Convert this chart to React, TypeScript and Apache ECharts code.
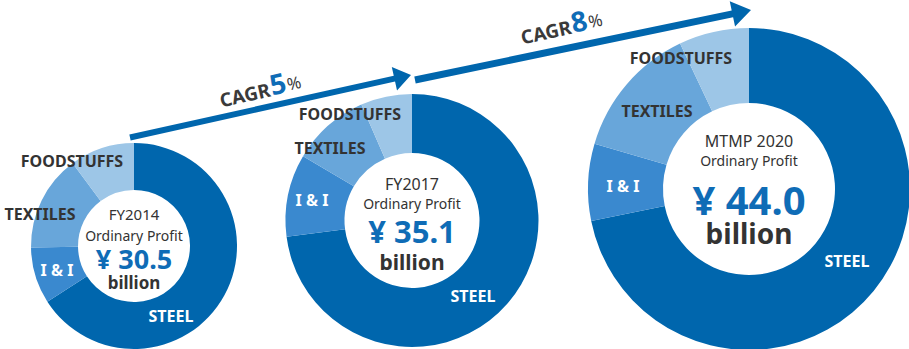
import React, { useEffect, useRef } from "react";
import * as echarts from "echarts";

// ---- data ----
const categories = ["STEEL", "I & I", "TEXTILES", "FOODSTUFFS"];
const periods = ["FY2014", "FY2017", "MTMP 2020"];
const fy2014 = [20.1, 2.7, 4.6, 3.1];
const fy2017 = [25.6, 3.7, 3.5, 2.3];
const mtmp2020 = [31.6, 3.4, 5.9, 3.1];
const cagrValues = ["5", "8"];
const subtitle = "Ordinary Profit";
const unit = "billion";

// ---- styles / layout ----
const sliceColors = ["#0066ad", "#3a89cf", "#68a6da", "#9dc6e7"];
const labelColors = ["#ffffff", "#ffffff", "#333333", "#333333"];
const blue = "#0f6cb6";
const dark = "#333333";
const FONT = '"Noto Sans", "Open Sans", sans-serif';

const layouts = [
  {
    cx: 134, cy: 246, r0: 56, r: 103,
    labelPos: [[171, 316], [57, 270], [40, 214], [72, 161]],
    labelSize: 16,
    title: { y: 214, size: 15 }, sub: { y: 235, size: 14 },
    value: { y: 258, size: 27 }, unit: { y: 282, size: 17 },
  },
  {
    cx: 412, cy: 220.5, r0: 67.5, r: 126.5,
    labelPos: [[473, 296], [312, 200], [330, 148], [350, 114]],
    labelSize: 16,
    title: { y: 184, size: 16 }, sub: { y: 203, size: 14 },
    value: { y: 231, size: 31 }, unit: { y: 262, size: 21 },
  },
  {
    cx: 749, cy: 189, r0: 86, r: 161,
    labelPos: [[847, 261], [623, 186], [657, 111], [681, 58]],
    labelSize: 16,
    title: { y: 141, size: 16 }, sub: { y: 160, size: 14 },
    value: { y: 199, size: 40 }, unit: { y: 233, size: 28 },
  },
];

const arrows = [
  { s: [130, 137.5], t: [411, 75], w: 6, hl: 17, hw: 24 },
  { s: [415, 80], t: [751, 10], w: 7, hl: 19, hw: 26 },
];
const cagrPos = [
  { x: 222, y: 110, rot: 0.225 },
  { x: 523, y: 47, rot: 0.215 },
];

function arrowPoints(a: any) {
  const [sx, sy] = a.s;
  const [tx, ty] = a.t;
  const len = Math.hypot(tx - sx, ty - sy);
  const ux = (tx - sx) / len, uy = (ty - sy) / len;
  const nx = -uy, ny = ux;
  const bx = tx - ux * a.hl, by = ty - uy * a.hl;
  return [
    [sx + nx * a.w / 2, sy + ny * a.w / 2],
    [bx + nx * a.w / 2, by + ny * a.w / 2],
    [bx + nx * a.hw / 2, by + ny * a.hw / 2],
    [tx, ty],
    [bx - nx * a.hw / 2, by - ny * a.hw / 2],
    [bx - nx * a.w / 2, by - ny * a.w / 2],
    [sx - nx * a.w / 2, sy - ny * a.w / 2],
  ];
}

export default function App() {
  const ref = useRef<HTMLDivElement>(null);
  useEffect(() => {
    document.body.style.margin = "0";
    if (!ref.current) return;
    const chart = echarts.init(ref.current, undefined, { renderer: "svg" });
    const datasets = [fy2014, fy2017, mtmp2020];

    const series = datasets.map((vals, i) => {
      const L = layouts[i];
      return {
        type: "pie",
        center: [L.cx, L.cy],
        radius: [L.r0, L.r],
        startAngle: 90,
        clockwise: true,
        silent: true,
        label: { show: false },
        labelLine: { show: false },
        itemStyle: { borderWidth: 0 },
        data: vals.map((v, k) => ({
          name: categories[k],
          value: v,
          itemStyle: { color: sliceColors[k] },
        })),
      };
    });

    const graphics: any[] = [];
    datasets.forEach((vals, i) => {
      const L = layouts[i];
      categories.forEach((c, k) => {
        graphics.push({
          type: "text",
          x: L.labelPos[k][0],
          y: L.labelPos[k][1],
          silent: true,
          z: 10,
          style: {
            text: c,
            fill: labelColors[k],
            font: `bold ${L.labelSize}px ${FONT}`,
            lineHeight: L.labelSize,
            align: "center",
            verticalAlign: "middle",
          },
        });
      });
      const total = vals.reduce((a, b) => a + b, 0).toFixed(1);
      const centerTexts = [
        { t: periods[i], s: L.title, w: "normal", c: dark },
        { t: subtitle, s: L.sub, w: "normal", c: dark },
        { t: `¥ ${total}`, s: L.value, w: "bold", c: blue },
        { t: unit, s: L.unit, w: "bold", c: dark },
      ];
      centerTexts.forEach((ct) => {
        graphics.push({
          type: "text",
          x: L.cx,
          y: ct.s.y,
          silent: true,
          z: 10,
          style: {
            text: ct.t,
            fill: ct.c,
            font: `${ct.w} ${ct.s.size}px ${FONT}`,
            lineHeight: Math.round(ct.s.size * 0.8),
            align: "center",
            verticalAlign: "middle",
          },
        });
      });
    });

    arrows.forEach((a) => {
      graphics.push({
        type: "polygon",
        silent: true,
        shape: { points: arrowPoints(a) },
        style: { fill: "#0066ad" },
      });
    });

    cagrValues.forEach((v, i) => {
      const p = cagrPos[i];
      graphics.push({
        type: "text",
        x: p.x,
        y: p.y,
        rotation: p.rot,
        silent: true,
        style: {
          text: `{a|CAGR}{b|${v}}{c|%}`,
          align: "left",
          verticalAlign: "bottom",
          rich: {
            a: { fontSize: 19, fontWeight: "bold", fill: "#3a3a3a", fontFamily: FONT, verticalAlign: "bottom", padding: [0, 1, 0, 0] },
            b: { fontSize: 28, fontWeight: "bold", fill: blue, fontFamily: FONT, verticalAlign: "bottom" },
            c: { fontSize: 17, fontWeight: "normal", fill: "#3a3a3a", fontFamily: FONT, verticalAlign: "bottom", padding: [0, 0, 2, 1] },
          },
        },
      });
    });

    chart.setOption({
      animation: false,
      backgroundColor: "#ffffff",
      series,
      graphic: { elements: graphics },
    });
    return () => chart.dispose();
  }, []);
  return <div ref={ref} style={{ width: 909, height: 349 }} />;
}
